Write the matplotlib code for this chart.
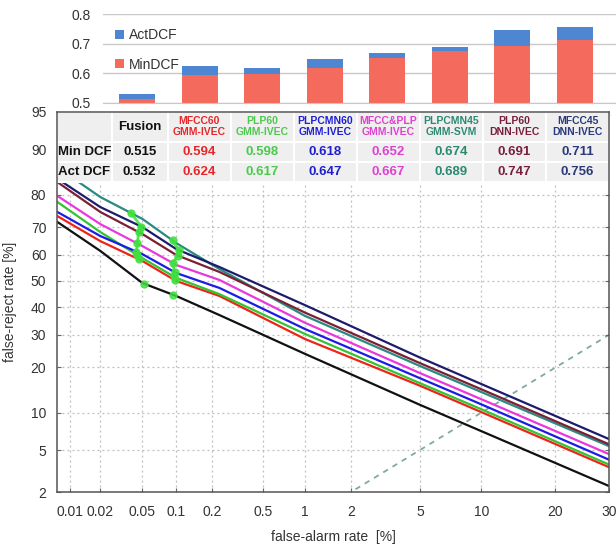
import numpy as np
import matplotlib
matplotlib.use("Agg")
import matplotlib.pyplot as plt
from statistics import NormalDist

plt.rcParams["font.family"] = ["Liberation Sans", "DejaVu Sans"]

# systems, DCF values
systems = ["Fusion", "MFCC60\nGMM-IVEC", "PLP60\nGMM-IVEC", "PLPCMN60\nGMM-IVEC",
           "MFCC&PLP\nGMM-IVEC", "PLPCMN45\nGMM-SVM", "PLP60\nDNN-IVEC", "MFCC45\nDNN-IVEC"]
min_dcf = [0.515, 0.594, 0.598, 0.618, 0.652, 0.674, 0.691, 0.711]
act_dcf = [0.532, 0.624, 0.617, 0.647, 0.667, 0.689, 0.747, 0.756]
line_colors = ["#111111", "#ee2418", "#33c433", "#1c1ce6", "#ea38dc", "#2a8a80", "#7a1f34", "#1c1c6c"]
text_colors = ["#111111", "#e8262a", "#4cc94c", "#2020d0", "#e040d0", "#2a8a70", "#7a1f40", "#2a3a7a"]

# DET curves (false alarm %, false reject %)
far = [0.0074, 0.02, 0.05, 0.1, 0.23, 1, 5, 10, 30]
far_svm = [0.0093, 0.02, 0.05, 0.1, 0.23, 1, 5, 10, 30]
frr = [
    [71.7, 61.5, 49.2, 44.2, 37.0, 23.9, 11.4, 7.2, 2.3],
    [73.6, 65.1, 57.7, 50.0, 44.2, 28.6, 15.4, 10.1, 3.5],
    [77.9, 68.3, 58.8, 51.2, 44.9, 30.3, 16.0, 10.6, 3.7],
    [74.9, 66.9, 60.3, 53.1, 47.3, 32.0, 17.2, 11.5, 4.1],
    [79.6, 71.0, 63.3, 56.2, 50.4, 34.2, 18.5, 12.5, 4.6],
    [85.1, 79.3, 72.7, 64.4, 54.6, 36.7, 20.4, 14.0, 5.4],
    [83.2, 74.9, 67.6, 60.0, 53.5, 37.9, 21.2, 14.6, 5.6],
    [84.0, 76.4, 70.0, 62.2, 55.4, 40.7, 22.8, 15.8, 6.2],
]
# operating points (false alarm %) for min / act DCF
min_far = [0.052, 0.046, 0.045, 0.044, 0.045, 0.039, 0.046, 0.049]
act_far = [0.093, 0.097, 0.095, 0.097, 0.093, 0.093, 0.103, 0.105]

xticks = [0.01, 0.02, 0.05, 0.1, 0.2, 0.5, 1, 2, 5, 10, 20, 30]
yticks = [2, 5, 10, 20, 30, 40, 50, 60, 70, 80, 90, 95]

_nd = NormalDist()


def probit(p):
    p = np.clip(np.asarray(p, dtype=float) / 100.0, 1e-10, 1 - 1e-10)
    return np.vectorize(_nd.inv_cdf, otypes=[float])(p)


def inv_probit(z):
    z = np.asarray(z, dtype=float)
    return 100.0 * np.vectorize(_nd.cdf, otypes=[float])(z)


def on_curve(x, xs, ys):
    return inv_probit(np.interp(probit(x), probit(xs), probit(ys)))


fig = plt.figure(figsize=(6.16, 5.49), dpi=100)
tc = "#333333"

# ---- bar chart on top
axb = fig.add_axes([0.167, 0.8124, 0.833, 0.162])
xb = np.arange(len(min_dcf))
axb.bar(xb, min_dcf, 0.58, color="#f46a5c", label="MinDCF", zorder=2)
axb.bar(xb, np.array(act_dcf) - np.array(min_dcf), 0.58, bottom=min_dcf,
        color="#4f86d2", label="ActDCF", zorder=2)
axb.set_ylim(0.5, 0.8)
axb.set_xlim(-0.55, 7.66)
axb.set_yticks([0.5, 0.6, 0.7, 0.8])
axb.set_yticklabels(["0.5", "0.6", "0.7", "0.8"])
axb.set_xticks([])
axb.grid(axis="y", color="#c8c8c8", lw=1, zorder=0)
for s in ["left", "right", "top"]:
    axb.spines[s].set_visible(False)
axb.spines["bottom"].set_color("#c8c8c8")
axb.tick_params(axis="y", length=0, pad=9, labelsize=10, labelcolor=tc)
h, l = axb.get_legend_handles_labels()
axb.legend(h[::-1], l[::-1], loc="upper left", bbox_to_anchor=(0.0, 0.98), frameon=False,
           handlelength=0.6, handleheight=0.6, handletextpad=0.4, labelspacing=1.1,
           fontsize=10, labelcolor=tc)

# ---- DET plot
ax = fig.add_axes([0.0933, 0.1038, 0.8953, 0.6922])
ax.set_xscale("function", functions=(probit, inv_probit))
ax.set_yscale("function", functions=(probit, inv_probit))

ax.plot([0.5, 95], [0.5, 95], color="#7fa9a2", ls=(0, (3, 3)), lw=1.3, zorder=1)
for i in range(len(frr)):
    xs = far_svm if i == 5 else far
    ax.plot(xs, frr[i], color=line_colors[i], lw=1.6, zorder=2)

# DCF operating points
for fars in (min_far, act_far):
    pts = []
    for i in range(len(frr)):
        xs = far_svm if i == 5 else far
        pts.append((fars[i], float(on_curve(fars[i], xs, frr[i]))))
    chain = sorted(pts[1:], key=lambda p: -p[1])
    ax.plot([p[0] for p in chain], [p[1] for p in chain], color="#3ee03e", lw=2.0,
            marker="o", ms=5, alpha=0.85, zorder=2.1)
    ax.plot(pts[0][0], pts[0][1], "o", color="#3ee03e", ms=5, alpha=0.85, zorder=2.1)

ax.set_xlim(0.0074, 30)
ax.set_ylim(2, 95)
ax.set_xticks(xticks)
ax.set_xticklabels([f"{t:g}" for t in xticks])
ax.set_yticks(yticks)
ax.set_yticklabels([f"{t:g}" for t in yticks])
ax.minorticks_off()
ax.grid(True, color="#bdbdbd", ls=(0, (1.5, 2.5)), lw=0.9, zorder=0)
ax.tick_params(direction="in", top=True, right=True, length=3, color="#666666",
               labelsize=10, labelcolor=tc)
ax.tick_params(axis="x", pad=9)
ax.tick_params(axis="y", pad=8)
for s in ax.spines.values():
    s.set_color("#555555")
    s.set_linewidth(1.1)
ax.set_xlabel("false-alarm rate  [%]", fontsize=10, color=tc, labelpad=8)
ax.set_ylabel("false-reject rate [%]", fontsize=10, color=tc, labelpad=10)

# ---- table with DCF values
rows = [["Min DCF"] + [f"{v:.3f}" for v in min_dcf],
        ["Act DCF"] + [f"{v:.3f}" for v in act_dcf]]
widths = [0.098, 0.102] + [0.8 / 7] * 7
tab = ax.table(cellText=rows, colLabels=[""] + systems, colWidths=widths,
               cellLoc="center", bbox=[0, 0.815, 1, 0.185])
tab.set_zorder(2.4)
tab.auto_set_font_size(False)
for (r, c), cell in tab.get_celld().items():
    cell.set_facecolor("#efefef")
    cell.set_edgecolor("white")
    cell.set_linewidth(1.5)
    cell.set_height(0.42 if r == 0 else 0.29)
    t = cell.get_text()
    t.set_fontweight("bold")
    if c == 0:
        t.set_color("#111111")
        t.set_fontsize(9.5)
    else:
        t.set_color(text_colors[c - 1])
        t.set_fontsize(9.5 if (r > 0 or c == 1) else 7.5)
        if r == 0:
            t.set_linespacing(1.1)

fig.savefig("out.png", dpi=100)
